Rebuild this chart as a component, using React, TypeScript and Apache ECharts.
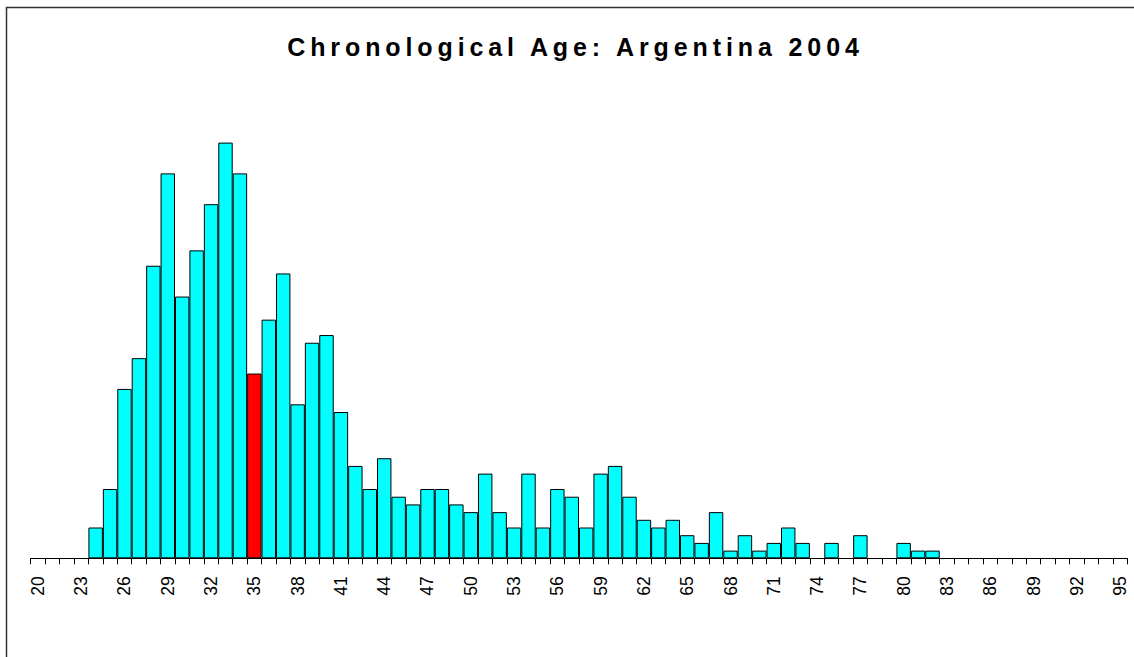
import React, { useEffect, useRef } from 'react';
import * as echarts from 'echarts';

const titleText = 'Chronological Age: Argentina 2004';

const ages = [
  '20', '21', '22', '23', '24', '25', '26', '27', '28', '29',
  '30', '31', '32', '33', '34', '35', '36', '37', '38', '39',
  '40', '41', '42', '43', '44', '45', '46', '47', '48', '49',
  '50', '51', '52', '53', '54', '55', '56', '57', '58', '59',
  '60', '61', '62', '63', '64', '65', '66', '67', '68', '69',
  '70', '71', '72', '73', '74', '75', '76', '77', '78', '79',
  '80', '81', '82', '83', '84', '85', '86', '87', '88', '89',
  '90', '91', '92', '93', '94', '95',
];

const counts = [
  0, 0, 0, 0, 4, 9, 22, 26, 38, 50,
  34, 40, 46, 54, 50, 24, 31, 37, 20, 28,
  29, 19, 12, 9, 13, 8, 7, 9, 9, 7,
  6, 11, 6, 4, 11, 4, 9, 8, 4, 11,
  12, 8, 5, 4, 5, 3, 2, 6, 1, 3,
  1, 2, 4, 2, 0, 2, 0, 3, 0, 0,
  2, 1, 1, 0, 0, 0, 0, 0, 0, 0,
  0, 0, 0, 0, 0, 0,
];

const highlightAge = '35';

const FONT = '"Liberation Sans", Arial, Helvetica, sans-serif';

export default function App() {
  const ref = useRef<HTMLDivElement>(null);

  useEffect(() => {
    if (!ref.current) return;
    const chart = echarts.init(ref.current, undefined, { renderer: 'svg' });

    const data = counts.map((v, i) => {
      const val = v === 0 ? null : v;
      if (ages[i] === highlightAge) {
        return { value: val, itemStyle: { color: '#FF0000' } };
      }
      return val;
    });

    chart.setOption({
      animation: false,
      backgroundColor: '#ffffff',
      graphic: [
        {
          type: 'rect',
          shape: { x: 6.5, y: 7.5, width: 1200, height: 700 },
          style: { fill: 'none', stroke: '#333333', lineWidth: 1.5 },
          silent: true,
        },
        {
          type: 'text',
          x: 575.5,
          y: 47,
          style: {
            text: titleText,
            font: `bold 25px ${FONT}`,
            fill: '#000000',
            textAlign: 'center',
            textVerticalAlign: 'middle',
          },
          silent: true,
        },
      ],
      grid: {
        left: 30.7,
        right: 6.7,
        top: 96.4,
        bottom: 98.7,
        containLabel: false,
      },
      xAxis: {
        type: 'category',
        data: ages,
        boundaryGap: true,
        axisLine: { show: true, lineStyle: { color: '#000000', width: 1 } },
        axisTick: {
          show: true,
          interval: 0,
          alignWithLabel: false,
          length: 6,
          lineStyle: { color: '#000000', width: 1 },
        },
        axisLabel: {
          interval: 2,
          rotate: 90,
          margin: 18,
          fontSize: 17.5,
          fontFamily: FONT,
          color: '#000000',
        },
        splitLine: { show: false },
      },
      yAxis: {
        type: 'value',
        min: 0,
        max: 60,
        show: false,
        splitLine: { show: false },
      },
      series: [
        {
          type: 'bar',
          data,
          barCategoryGap: '0%',
          itemStyle: {
            color: '#00FFFF',
            borderColor: '#000000',
            borderWidth: 1,
          },
          emphasis: { disabled: true },
        },
      ],
    });

    const applySpacing = () => {
      const root = ref.current;
      if (!root) return;
      root.querySelectorAll('text').forEach((t) => {
        if (t.textContent === titleText) {
          t.setAttribute('letter-spacing', '4.9px');
        }
      });
    };
    chart.on('finished', applySpacing);
    applySpacing();
    const raf = requestAnimationFrame(applySpacing);
    const to = setTimeout(applySpacing, 30);

    return () => {
      cancelAnimationFrame(raf);
      clearTimeout(to);
      chart.dispose();
    };
  }, []);

  return (
    <div
      ref={ref}
      style={{ position: 'fixed', left: 0, top: 0, width: 1134, height: 657 }}
    />
  );
}
